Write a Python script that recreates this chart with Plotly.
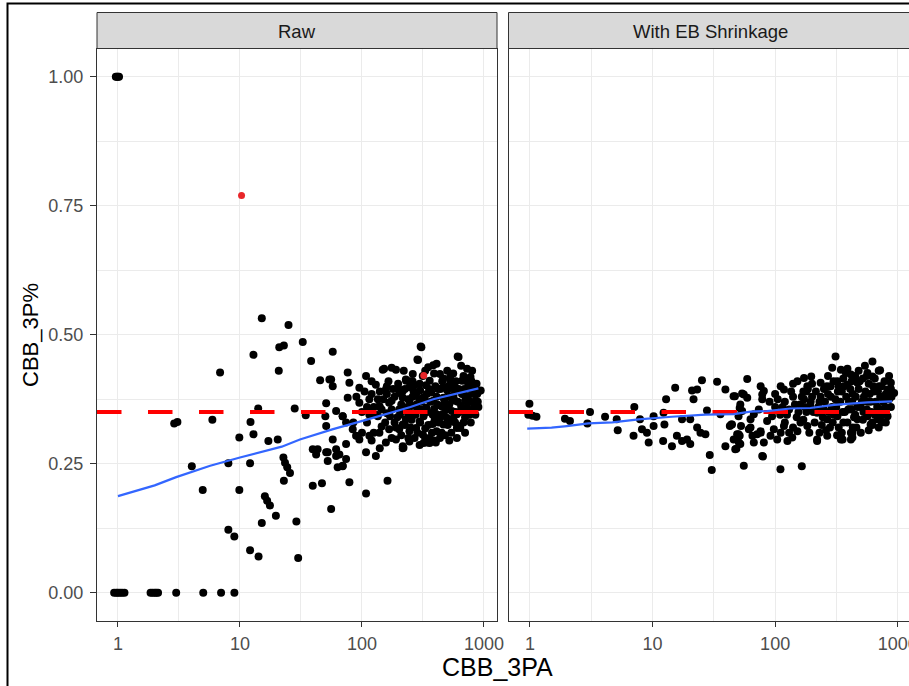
import plotly.graph_objects as go

# ---------------- data ----------------
raw_x = [0.93, 0.97, 1.0, 1.04, 1.08, 1.13,
         0.96, 0.98, 1.0, 1.02,
         1.85, 1.92, 2.0, 2.06, 2.13, 3.0, 5.0, 7.0, 9.0,
         15.1, 25.0, 32.7, 12.9, 21.0, 22.9, 20.8, 6.87,
         14.1, 28.1, 34.6, 2.89, 3.07, 5.94, 12.2, 9.88, 12.9, 17.1, 20.4, 4.03, 8.03, 12.1,
         22.7, 23.4, 24.4, 25.7, 22.9, 4.95, 9.88, 16.0, 16.7, 17.6, 19.7, 15.1, 29.0,
         8.03, 8.99, 12.1, 14.2, 30.0,
         57.6, 38.3, 76.4, 45.4, 55.9, 57.6, 78.9,
         50.9, 61.4, 69.5, 74.1, 84, 89.5,
         57.6, 50.9, 61.4, 69.5, 74.1, 39.5, 42.1, 39.5, 47.0, 78.9, 63.2, 162,
         108, 55.9,
         54.1, 50.1, 50.9, 43.3, 52.4, 52.4, 69.5, 65.3, 61.4, 74.1, 76.4, 69.5,
         95.2, 108, 148, 190, 229, 130, 157, 202, 95.2, 115, 139, 167, 202, 229,
         95.2, 115, 139, 167, 202, 216, 108, 130, 157, 190,
         307, 288, 349, 384, 409, 619, 727, 661, 776, 940,
         230, 261, 245, 297, 359, 436, 528, 465, 563,
         216, 245, 278, 316, 384, 465, 563, 682, 827, 230, 261, 297, 337, 409, 495, 600, 727, 853,
         216, 245, 278, 316, 359, 409, 465, 528, 600, 245, 297, 359, 436, 640, 216,
         912, 625, 609, 219, 403, 342, 303, 285, 152, 175,
         120, 135, 145, 160, 175, 185, 198, 210, 225, 240, 255, 270, 285, 300, 320, 335, 350,
         370, 390, 420, 445, 470, 500, 520, 545, 580, 620, 650, 700, 760, 800, 870,
         100, 110, 125, 150, 170, 180, 195, 250, 270, 330, 380, 430, 480, 560, 700,
         260, 305, 340, 410, 455, 510, 590, 680, 750, 820, 880, 130, 90, 85, 100, 120, 140,
         175, 210, 300, 540, 120, 220, 260, 330, 390, 500, 560, 650, 800, 720, 600, 460,
         380, 330, 280, 240, 200, 160, 140, 110,
         320, 390, 520, 600, 700, 780, 850, 900,
         105, 115, 125, 135, 145, 155, 165, 175, 185, 190, 205, 215, 225, 235, 245, 255,
         265, 275, 285, 295, 310, 315, 325, 345, 355, 365, 375, 395, 400, 415, 425, 440,
         450, 465, 475, 490, 505, 515, 530, 550, 570, 585, 610, 630, 660, 690, 710, 740,
         770, 790, 830, 860, 890, 240, 330, 450, 140, 160, 120, 580, 680, 760]
raw_y = [0.0, 0.0, 0.0, 0.0, 0.0, 0.0,
         1.0, 1.0, 1.0, 1.0,
         0.0, 0.0, 0.0, 0.0, 0.0, 0.0, 0.0, 0.0, 0.0,
         0.532, 0.519, 0.486, 0.461, 0.476, 0.479, 0.430, 0.427,
         0.357, 0.357, 0.344, 0.328, 0.331, 0.335, 0.331, 0.301, 0.307, 0.294, 0.297, 0.245, 0.251, 0.251,
         0.262, 0.252, 0.243, 0.232, 0.217, 0.199, 0.199, 0.187, 0.178, 0.169, 0.149, 0.135, 0.138,
         0.122, 0.109, 0.082, 0.070, 0.067,
         0.467, 0.449, 0.427, 0.412, 0.413, 0.400, 0.407,
         0.367, 0.352, 0.342, 0.330, 0.317, 0.304,
         0.297, 0.272, 0.265, 0.246, 0.259, 0.278, 0.268, 0.207, 0.212, 0.214, 0.243, 0.217,
         0.192, 0.162,
         0.413, 0.342, 0.323, 0.278, 0.272, 0.255, 0.245, 0.268, 0.278, 0.288, 0.378, 0.342,
         0.397, 0.420, 0.432, 0.432, 0.413, 0.403, 0.394, 0.387, 0.368, 0.375, 0.362, 0.368, 0.355, 0.336,
         0.297, 0.304, 0.310, 0.317, 0.317, 0.284, 0.272, 0.265, 0.291, 0.297,
         0.476, 0.451, 0.437, 0.441, 0.444, 0.457, 0.434, 0.411, 0.418, 0.392,
         0.411, 0.424, 0.398, 0.405, 0.411, 0.424, 0.418, 0.398, 0.401,
         0.378, 0.372, 0.385, 0.378, 0.372, 0.378, 0.382, 0.385, 0.385, 0.352, 0.346, 0.332, 0.359, 0.346, 0.339, 0.346, 0.359, 0.372,
         0.326, 0.313, 0.319, 0.306, 0.300, 0.313, 0.326, 0.332, 0.319, 0.293, 0.286, 0.290, 0.300, 0.319, 0.280,
         0.391, 0.323, 0.458, 0.281, 0.291, 0.291, 0.477, 0.452, 0.434, 0.436,
         0.385, 0.342, 0.322, 0.348, 0.372, 0.330, 0.405, 0.365, 0.395, 0.342, 0.362, 0.402, 0.355, 0.392, 0.342, 0.402, 0.325,
         0.388, 0.356, 0.395, 0.362, 0.345, 0.392, 0.365, 0.352, 0.372, 0.395, 0.362, 0.372, 0.395, 0.352, 0.405,
         0.350, 0.330, 0.360, 0.375, 0.342, 0.395, 0.340, 0.320, 0.300, 0.318, 0.327, 0.337, 0.305, 0.338, 0.340,
         0.380, 0.370, 0.385, 0.380, 0.410, 0.400, 0.410, 0.420, 0.400, 0.400, 0.385, 0.345, 0.380, 0.330, 0.310, 0.295, 0.280,
         0.300, 0.305, 0.330, 0.310, 0.410, 0.430, 0.410, 0.430, 0.425, 0.430, 0.425, 0.440, 0.430, 0.410, 0.395, 0.360,
         0.345, 0.355, 0.365, 0.375, 0.395, 0.385, 0.390, 0.360,
         0.290, 0.295, 0.295, 0.300, 0.310, 0.330, 0.345, 0.360,
         0.390, 0.345, 0.310, 0.375, 0.355, 0.330, 0.410, 0.355, 0.380, 0.320, 0.345, 0.390, 0.325, 0.360, 0.410, 0.335,
         0.390, 0.345, 0.310, 0.375, 0.355, 0.420, 0.375, 0.350, 0.395, 0.370, 0.310, 0.335, 0.400, 0.365, 0.330, 0.395,
         0.345, 0.415, 0.370, 0.355, 0.325, 0.380, 0.410, 0.375, 0.395, 0.350, 0.370, 0.350, 0.385, 0.395, 0.355, 0.380,
         0.370, 0.410, 0.360, 0.390, 0.370, 0.300, 0.300, 0.310, 0.360, 0.400, 0.350, 0.330, 0.330, 0.345]

red_x = [10.3, 321]
red_y = [0.770, 0.421]

shr_x = [0.99, 0.97, 1.05, 1.13,
         1.93, 2.12, 3.09, 2.94, 4.1, 5.1, 5.2, 7.1, 7.0, 7.9, 8.2, 9.0, 9.3, 10.2, 10.2, 12.2, 12.9, 15.3,
         12.3, 12.5, 14.4, 15.8, 17.4, 19.1, 20.3, 17.4, 20.3, 21.0, 21.6, 23.1, 25.3, 23.1, 24.6, 27.0,
         27.8, 29.3, 30.4, 33.6, 39.3, 35.8, 39.3, 42.7, 43.9, 48.3, 49, 51.4, 52.7, 50.6, 45.8, 55.5,
         59.2, 59.2, 55.5, 51.4, 63, 65.3, 67, 76.2, 78.5, 79.5, 76.2, 80.9, 110.5, 165, 220,
         311, 292, 344, 389, 622, 718, 935, 622, 415, 355, 427,
         53.8, 52, 53.8, 50.3, 44.5, 45.9, 50.3, 52, 47.3, 61, 63, 67, 73.6, 78.5, 80.9, 86, 94.4,
         71.3, 76, 78.5, 91.7, 97.6, 104, 111, 118, 126, 138, 152, 161, 111, 118, 152, 172, 183, 47,
         378, 415, 197, 235, 284, 322, 389, 469, 566, 622, 705, 826, 879,
         172, 194, 220, 266, 322, 389, 469, 566, 684, 826,
         183, 220, 266, 344, 427, 415, 601, 726,
         100, 110, 120, 130, 140, 150, 160, 170, 180, 200, 210, 230, 250, 270, 290, 310, 330, 350,
         370, 400, 430, 450, 480, 500, 530, 560, 600, 640, 680, 720, 760, 800, 850, 880,
         120, 140, 170, 240, 280, 300, 360, 420, 460, 520, 580, 650, 750,
         300, 360, 450, 520, 580, 650, 780, 850, 250, 200, 140, 100, 90,
         130, 190, 260, 350, 500, 700, 800, 880, 540, 700, 480, 270,
         105, 115, 125, 135, 145, 155, 165, 175, 185, 195, 205, 215, 225, 235, 245, 255,
         265, 275, 285, 295, 315, 325, 340, 355, 365, 380, 395, 410, 425, 440, 455, 470,
         490, 510, 525, 545, 565, 590, 610, 630, 660, 690, 710, 740, 770, 790, 820, 860,
         890, 230, 320, 430, 620, 740, 560, 420, 330, 180]
shr_y = [0.366, 0.345, 0.343, 0.341,
         0.337, 0.333, 0.350, 0.328, 0.341, 0.336, 0.315, 0.360, 0.304, 0.336, 0.317, 0.310, 0.291, 0.342, 0.323, 0.294, 0.375, 0.397,
         0.349, 0.326, 0.284, 0.304, 0.294, 0.297, 0.288, 0.336, 0.336, 0.392, 0.375, 0.394, 0.412, 0.320, 0.310, 0.307,
         0.353, 0.267, 0.238, 0.409, 0.394, 0.346, 0.284, 0.323, 0.326, 0.279, 0.307, 0.304, 0.323, 0.291, 0.381, 0.384,
         0.414, 0.378, 0.246, 0.358, 0.320, 0.304, 0.291, 0.400, 0.384, 0.264, 0.310, 0.291, 0.239, 0.245, 0.294,
         0.458, 0.436, 0.432, 0.434, 0.448, 0.431, 0.387, 0.325, 0.297, 0.297, 0.310,
         0.386, 0.365, 0.352, 0.342, 0.326, 0.297, 0.307, 0.288, 0.278, 0.317, 0.336, 0.346, 0.355, 0.375, 0.391, 0.333, 0.342,
         0.307, 0.313, 0.265, 0.304, 0.317, 0.297, 0.310, 0.323, 0.294, 0.301, 0.313, 0.330, 0.400, 0.394, 0.410, 0.416, 0.400, 0.381,
         0.426, 0.423, 0.419, 0.407, 0.400, 0.410, 0.403, 0.407, 0.426, 0.419, 0.400, 0.394, 0.407,
         0.375, 0.362, 0.349, 0.336, 0.342, 0.330, 0.336, 0.342, 0.336, 0.342,
         0.323, 0.297, 0.304, 0.297, 0.301, 0.310, 0.326, 0.342,
         0.360, 0.345, 0.370, 0.355, 0.380, 0.340, 0.365, 0.390, 0.350, 0.380, 0.330, 0.370, 0.355, 0.385, 0.360, 0.375, 0.320, 0.390,
         0.350, 0.370, 0.385, 0.345, 0.395, 0.360, 0.380, 0.355, 0.370, 0.390, 0.360, 0.380, 0.370, 0.385, 0.375, 0.360,
         0.330, 0.320, 0.335, 0.325, 0.320, 0.345, 0.330, 0.355, 0.320, 0.335, 0.315, 0.345, 0.355,
         0.410, 0.415, 0.420, 0.415, 0.405, 0.415, 0.410, 0.420, 0.395, 0.405, 0.405, 0.385, 0.370,
         0.310, 0.310, 0.315, 0.310, 0.310, 0.320, 0.330, 0.395, 0.440, 0.430, 0.430, 0.420,
         0.375, 0.360, 0.345, 0.390, 0.365, 0.350, 0.380, 0.360, 0.395, 0.370, 0.350, 0.390, 0.360, 0.380, 0.340, 0.370,
         0.400, 0.350, 0.380, 0.330, 0.360, 0.390, 0.370, 0.350, 0.400, 0.380, 0.355, 0.395, 0.370, 0.340, 0.380, 0.360,
         0.410, 0.370, 0.350, 0.390, 0.370, 0.385, 0.350, 0.400, 0.370, 0.390, 0.350, 0.400, 0.380, 0.360, 0.375, 0.390,
         0.380, 0.310, 0.305, 0.320, 0.330, 0.330, 0.420, 0.410, 0.400, 0.390]

smooth_raw_x = [1, 2, 3, 5.7, 10, 22, 31, 58, 108, 150, 200, 250, 384, 640, 900]
smooth_raw_y = [0.187, 0.208, 0.224, 0.246, 0.262, 0.283, 0.297, 0.317, 0.335, 0.345, 0.353, 0.360, 0.375, 0.388, 0.396]
smooth_shr_x = [0.95, 1.5, 2, 3, 4.7, 7.7, 14.4, 27, 46, 63, 86, 133, 194, 303, 566, 900]
smooth_shr_y = [0.318, 0.320, 0.323, 0.328, 0.330, 0.336, 0.341, 0.345, 0.346, 0.351, 0.352, 0.357, 0.358, 0.364, 0.369, 0.371]

league_avg = 0.35
panel_titles = ["Raw", "With EB Shrinkage"]
x_ticks = [1, 10, 100, 1000]
x_ticktext = ["1", "10", "100", "1000"]
y_ticks = [0, 0.25, 0.5, 0.75, 1.0]
y_ticktext = ["0.00", "0.25", "0.50", "0.75", "1.00"]

# ---------------- figure ----------------
W, H = 909, 686
FONT = "Liberation Sans, Arial, sans-serif"
GRID = "#EBEBEB"
BORDER = "#333333"

fig = go.Figure()

pt = dict(mode="markers", marker=dict(color="black", size=8, line=dict(width=0)), showlegend=False, hoverinfo="skip")
fig.add_trace(go.Scatter(x=raw_x, y=raw_y, xaxis="x", yaxis="y", **pt))
fig.add_trace(go.Scatter(x=red_x, y=red_y, xaxis="x", yaxis="y", mode="markers",
                         marker=dict(color="#E8262A", size=7, line=dict(width=0)), showlegend=False))
fig.add_trace(go.Scatter(x=shr_x, y=shr_y, xaxis="x2", yaxis="y2", **pt))

xr1 = [-0.172, 3.107]
xr2 = [-0.175, 3.092]   # right panel is cut by the image edge
for xa, ya, xr in (("x", "y", xr1), ("x2", "y2", xr2)):
    fig.add_trace(go.Scatter(x=[10 ** xr[0], 10 ** xr[1]], y=[league_avg, league_avg], xaxis=xa, yaxis=ya,
                             mode="lines", line=dict(color="#FF0000", width=4, dash="24.5px,26.5px"),
                             showlegend=False, hoverinfo="skip"))

fig.add_trace(go.Scatter(x=smooth_raw_x, y=smooth_raw_y, xaxis="x", yaxis="y", mode="lines",
                         line=dict(color="#3366FF", width=2.2), showlegend=False))
fig.add_trace(go.Scatter(x=smooth_shr_x, y=smooth_shr_y, xaxis="x2", yaxis="y2", mode="lines",
                         line=dict(color="#3366FF", width=2.2), showlegend=False))

L0, L1 = 97, 497
R0, R1 = 508.5, 909
T, B = 48.5, 621
ST = 12.5

def px(v):
    return v / W

def py(v):
    return (H - v) / H

TICKFONT = dict(family=FONT, size=18, color="#4D4D4D")
axis_common = dict(type="log", tickmode="array", tickvals=x_ticks, ticktext=x_ticktext,
                   ticks="outside", ticklen=5, tickcolor=BORDER, tickwidth=1,
                   ticklabeloverflow="allow", ticklabelstandoff=1, automargin=False,
                   showgrid=True, gridcolor=GRID, gridwidth=1.1,
                   minor=dict(tickmode="array", tickvals=[3.162, 31.62, 316.2], showgrid=True,
                              gridcolor=GRID, gridwidth=0.6, ticks=""),
                   showline=True, mirror=True, linecolor=BORDER, linewidth=1, zeroline=False,
                   tickfont=TICKFONT)
yaxis_common = dict(range=[-0.055, 1.055], tickmode="array", tickvals=y_ticks, ticktext=y_ticktext,
                    showgrid=True, gridcolor=GRID, gridwidth=1.1, automargin=False,
                    minor=dict(tickmode="array", tickvals=[0.125, 0.375, 0.625, 0.875], showgrid=True,
                               gridcolor=GRID, gridwidth=0.6, ticks=""),
                    showline=True, mirror=True, linecolor=BORDER, linewidth=1, zeroline=False,
                    tickfont=TICKFONT)

fig.update_layout(
    width=W, height=H, margin=dict(l=0, r=0, t=0, b=0, autoexpand=False),
    paper_bgcolor="white", plot_bgcolor="white",
    xaxis=dict(domain=[px(L0), px(L1)], anchor="y", range=xr1, **axis_common),
    xaxis2=dict(domain=[px(R0), px(R1)], anchor="y2", range=xr2, **axis_common),
    yaxis=dict(domain=[py(B), py(T)], anchor="x", ticks="outside", ticklen=6, tickcolor=BORDER,
               ticklabelstandoff=3, **yaxis_common),
    yaxis2=dict(domain=[py(B), py(T)], anchor="x2", ticks="", showticklabels=False, **yaxis_common),
)

shapes = []
annotations = []
for (a, b), title in zip(((L0, L1), (R0, R1 + 3)), panel_titles):
    shapes.append(dict(type="rect", xref="paper", yref="paper", x0=px(a), x1=px(b), y0=py(T), y1=py(ST),
                       fillcolor="#D9D9D9", line=dict(color=BORDER, width=1), layer="above"))
    annotations.append(dict(xref="paper", yref="paper", x=px((a + b) / 2), y=py((T + ST) / 2 + 1), text=title,
                            showarrow=False, xanchor="center", yanchor="middle",
                            font=dict(family=FONT, size=18.5, color="#1A1A1A")))

# outer frame of the image
shapes.append(dict(type="rect", xref="paper", yref="paper", x0=px(7.5), x1=1.05, y0=-0.05, y1=py(3.5),
                   line=dict(color="black", width=2), fillcolor="rgba(0,0,0,0)", layer="above"))

annotations.append(dict(xref="paper", yref="paper", x=px(498), y=py(667), text="CBB_3PA", showarrow=False,
                        xanchor="center", yanchor="middle", font=dict(family=FONT, size=25, color="black")))
annotations.append(dict(xref="paper", yref="paper", x=px(30), y=py(335), text="CBB_3P%", showarrow=False,
                        textangle=-90, xanchor="center", yanchor="middle",
                        font=dict(family=FONT, size=22, color="black")))

fig.update_layout(shapes=shapes, annotations=annotations)
fig.write_html("out.html")
